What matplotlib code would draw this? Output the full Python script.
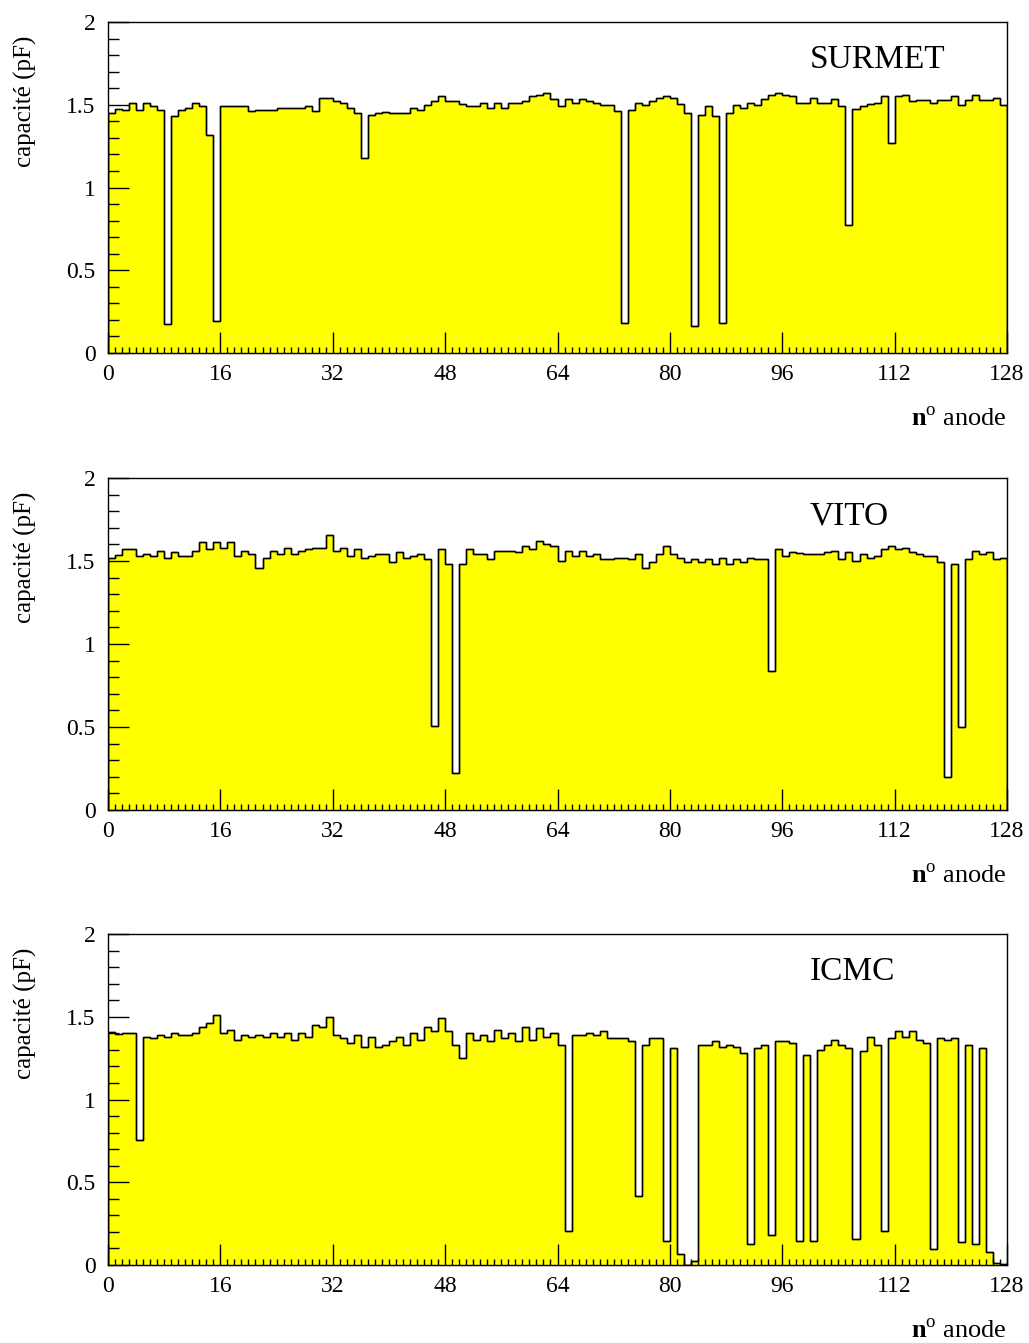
#Capacité des anodes pour trois fabricants
import numpy as np
import matplotlib
matplotlib.use('Agg')
import matplotlib.pyplot as plt
from matplotlib.ticker import MultipleLocator, FormatStrFormatter

plt.rcParams['font.family'] = ['Liberation Serif', 'DejaVu Serif']
plt.rcParams['mathtext.fontset'] = 'custom'
plt.rcParams['mathtext.rm'] = 'Liberation Serif'
plt.rcParams['mathtext.bf'] = 'Liberation Serif:bold'

# numéros d'anode 0..128 (bords des canaux)
edges = np.arange(129)

surmet = [1.45, 1.476, 1.47, 1.51, 1.47, 1.51, 1.494, 1.47, 0.173, 1.43, 1.468, 1.478, 1.51, 1.494, 1.319, 0.195,
          1.492, 1.492, 1.492, 1.492, 1.46, 1.47, 1.47, 1.47, 1.478, 1.478, 1.478, 1.478, 1.494, 1.46, 1.54, 1.54,
          1.52, 1.51, 1.478, 1.452, 1.178, 1.44, 1.45, 1.458, 1.452, 1.452, 1.452, 1.478, 1.47, 1.50, 1.52, 1.552,
          1.52, 1.52, 1.502, 1.492, 1.492, 1.51, 1.478, 1.51, 1.478, 1.51, 1.51, 1.52, 1.552, 1.56, 1.57, 1.532,
          1.492, 1.532, 1.51, 1.532, 1.52, 1.51, 1.50, 1.50, 1.46, 0.183, 1.47, 1.51, 1.50, 1.52, 1.542, 1.552,
          1.542, 1.502, 1.452, 0.163, 1.44, 1.492, 1.432, 0.183, 1.452, 1.50, 1.48, 1.51, 1.50, 1.532, 1.56, 1.57,
          1.556, 1.552, 1.51, 1.51, 1.54, 1.51, 1.51, 1.532, 1.492, 0.775, 1.476, 1.492, 1.502, 1.512, 1.552, 1.27,
          1.552, 1.56, 1.52, 1.53, 1.53, 1.51, 1.53, 1.53, 1.552, 1.50, 1.53, 1.56, 1.53, 1.53, 1.54, 1.50]

vito = [1.518, 1.538, 1.572, 1.572, 1.532, 1.54, 1.532, 1.56, 1.518, 1.552, 1.532, 1.532, 1.56, 1.612, 1.572, 1.612,
        1.578, 1.612, 1.532, 1.56, 1.54, 1.46, 1.518, 1.56, 1.54, 1.578, 1.54, 1.56, 1.572, 1.578, 1.578, 1.659,
        1.56, 1.58, 1.532, 1.572, 1.52, 1.532, 1.54, 1.54, 1.492, 1.552, 1.52, 1.532, 1.54, 1.512, 0.508, 1.572,
        1.48, 0.221, 1.48, 1.572, 1.54, 1.54, 1.512, 1.56, 1.56, 1.56, 1.552, 1.592, 1.572, 1.62, 1.60, 1.592,
        1.50, 1.56, 1.532, 1.56, 1.532, 1.54, 1.512, 1.512, 1.518, 1.518, 1.512, 1.54, 1.46, 1.492, 1.54, 1.592,
        1.54, 1.52, 1.492, 1.512, 1.492, 1.512, 1.48, 1.52, 1.48, 1.512, 1.492, 1.52, 1.512, 1.512, 0.839, 1.572,
        1.532, 1.552, 1.546, 1.54, 1.54, 1.54, 1.552, 1.56, 1.512, 1.552, 1.50, 1.54, 1.52, 1.532, 1.572, 1.592,
        1.572, 1.58, 1.552, 1.54, 1.532, 1.532, 1.492, 0.201, 1.48, 0.502, 1.512, 1.56, 1.54, 1.552, 1.512, 1.52]

icmc = [1.406, 1.396, 1.40, 1.40, 0.757, 1.38, 1.37, 1.392, 1.38, 1.40, 1.392, 1.392, 1.40, 1.44, 1.46, 1.512,
        1.40, 1.42, 1.36, 1.392, 1.38, 1.392, 1.38, 1.40, 1.38, 1.40, 1.36, 1.40, 1.38, 1.452, 1.44, 1.50,
        1.392, 1.37, 1.34, 1.392, 1.32, 1.38, 1.32, 1.331, 1.351, 1.38, 1.331, 1.40, 1.36, 1.44, 1.412, 1.492,
        1.412, 1.331, 1.251, 1.40, 1.36, 1.392, 1.351, 1.42, 1.371, 1.40, 1.351, 1.44, 1.36, 1.432, 1.38, 1.40,
        1.331, 0.207, 1.392, 1.392, 1.40, 1.392, 1.412, 1.371, 1.371, 1.371, 1.351, 0.418, 1.331, 1.371, 1.371, 0.147,
        1.311, 0.066, 0.0, 0.026, 1.331, 1.331, 1.351, 1.32, 1.331, 1.32, 1.281, 0.127, 1.311, 1.331, 0.179, 1.351,
        1.351, 1.341, 0.147, 1.269, 0.147, 1.30, 1.331, 1.36, 1.331, 1.311, 0.159, 1.291, 1.38, 1.331, 0.207, 1.371,
        1.412, 1.38, 1.412, 1.36, 1.341, 0.098, 1.371, 1.36, 1.371, 0.139, 1.331, 0.127, 1.311, 0.078, 0.01, 0.005]

names = ['SURMET', 'VITO', 'ICMC']
series = [surmet, vito, icmc]

fig = plt.figure(figsize=(10.29, 13.43), dpi=100)
W, H = 1029.0, 1343.0
# (haut, bas) en pixels de chaque cadre
frames = [(22, 353), (478, 810), (934, 1265)]

for (top, bot), name, vals in zip(frames, names, series):
    ax = fig.add_axes([108 / W, 1 - bot / H, (1007 - 108) / W, (bot - top) / H])
    ax.stairs(vals, edges, fill=True, facecolor='#ffff00', edgecolor='black', linewidth=1.0)
    ax.stairs(vals, edges, fill=False, color='black', linewidth=1.0, baseline=0)
    ax.set_xlim(0, 128)
    ax.set_ylim(0, 2)
    for s in ax.spines.values():
        s.set_linewidth(1.0)

    ax.xaxis.set_major_locator(MultipleLocator(16))
    ax.xaxis.set_minor_locator(MultipleLocator(1))
    ax.yaxis.set_major_locator(MultipleLocator(0.5))
    ax.yaxis.set_minor_locator(MultipleLocator(0.1))
    ax.yaxis.set_major_formatter(FormatStrFormatter('%g'))
    ax.tick_params(axis='both', which='both', direction='in', top=False, right=False,
                   labelsize=17, width=1.0)
    ax.tick_params(axis='x', which='major', length=15, pad=8)
    ax.tick_params(axis='x', which='minor', length=4)
    ax.tick_params(axis='y', which='major', length=15, pad=9)
    ax.tick_params(axis='y', which='minor', length=8)

    # graduations intermédiaires tous les 8
    sec = ax.secondary_xaxis('bottom')
    sec.set_xticks(np.arange(8, 128, 16))
    sec.tick_params(direction='in', length=7, width=1.0, labelbottom=False)
    sec.xaxis.set_minor_locator(plt.NullLocator())

    ax.text(0.781, 0.885, name, transform=ax.transAxes, fontsize=24,
            ha='left', va='center')
    ax.text(-0.092, 0.96, 'capacité (pF)', transform=ax.transAxes, fontsize=18,
            rotation=90, ha='center', va='top')
    ax.text(1.0, -0.2, r'$\mathbf{n}^{\mathrm{o}}$ anode', transform=ax.transAxes,
            fontsize=19, ha='right', va='center')

plt.savefig('out.png', dpi=100)
